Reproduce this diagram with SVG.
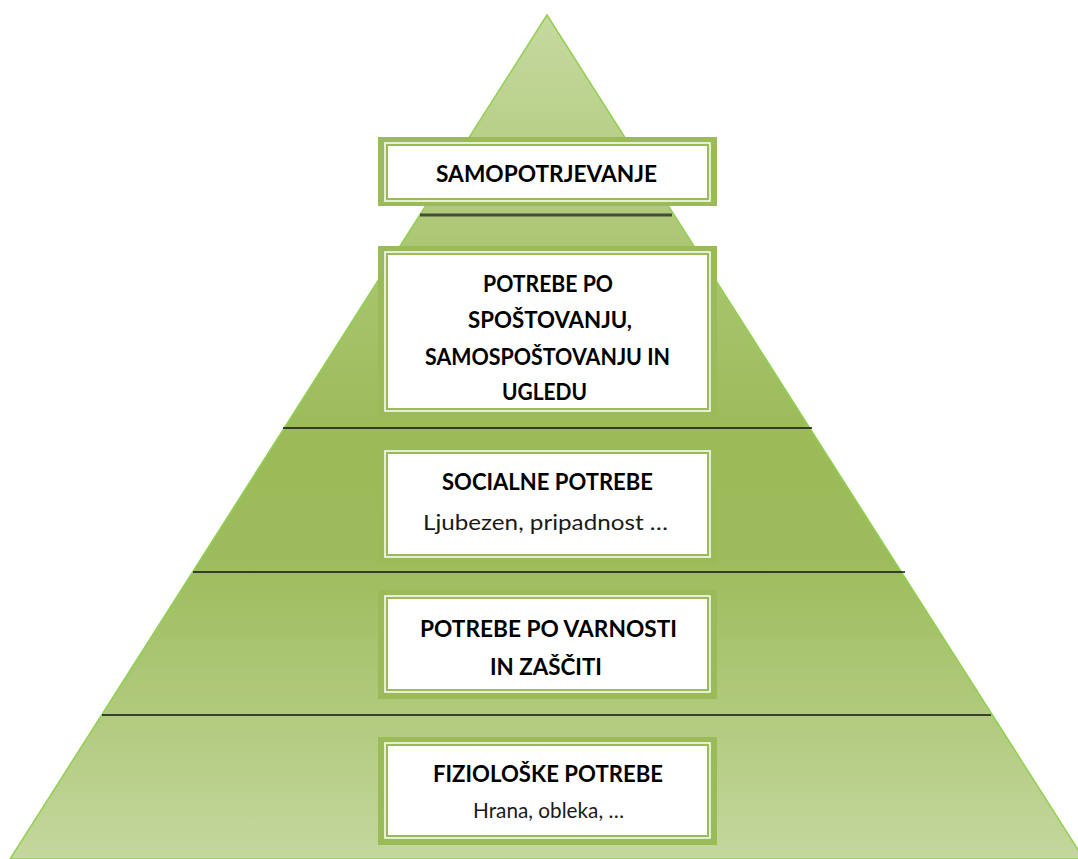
<svg xmlns="http://www.w3.org/2000/svg" width="1078" height="859" viewBox="0 0 1078 859">
  <defs>
    <linearGradient id="pyr" x1="0" y1="15" x2="0" y2="859" gradientUnits="userSpaceOnUse">
      <stop offset="0" stop-color="#c6d9a0"/>
      <stop offset="0.3" stop-color="#a9c56f"/>
      <stop offset="0.5" stop-color="#9bbb59"/>
      <stop offset="0.65" stop-color="#9dbd5d"/>
      <stop offset="1" stop-color="#c4d79d"/>
    </linearGradient>
  </defs>
  <style>
    .outer { fill: #9bbb59; }
    .dbl { fill: none; stroke: #ffffff; stroke-width: 1.5; }
    .inner { fill: #ffffff; }
    .t { font-family: Lato, "Open Sans", "Liberation Sans", sans-serif; font-weight: bold; font-size: 23px; fill: #000000; text-anchor: middle; }
    .s { font-family: Lato, "Open Sans", "Liberation Sans", sans-serif; font-size: 22px; fill: #1a1a1a; text-anchor: middle; }
    .sep { stroke: #111111; stroke-width: 1.5; }
  </style>
  <rect width="1078" height="859" fill="#ffffff"/>
  <g id="pyramid">
    <polygon points="547,15 1084,859 10,859" fill="url(#pyr)" stroke="#92d050" stroke-width="1.5"/>
  </g>
  <g id="connectors">
    <line x1="420" y1="215" x2="672" y2="215" stroke="#4a4a3a" stroke-width="3"/>
    <line class="sep" x1="283" y1="428" x2="812" y2="428"/>
    <line class="sep" x1="193" y1="572" x2="905" y2="572"/>
    <line class="sep" x1="102" y1="715" x2="991" y2="715"/>
  </g>
  <g id="node-samopotrjevanje">
    <rect class="outer" x="378" y="137" width="339" height="69"/>
    <rect class="dbl" x="385" y="143" width="325" height="58"/>
    <rect class="inner" x="388" y="146" width="319" height="52"/>
    <text class="t" x="546.5" y="182" textLength="221" lengthAdjust="spacingAndGlyphs">SAMOPOTRJEVANJE</text>
  </g>
  <g id="node-spostovanje">
    <rect class="outer" x="378" y="246" width="339" height="171"/>
    <rect class="dbl" x="385" y="252" width="325" height="159"/>
    <rect class="inner" x="388" y="255" width="319" height="153"/>
    <text class="t" x="548" y="292" textLength="130" lengthAdjust="spacingAndGlyphs">POTREBE PO</text>
    <text class="t" x="550" y="328" textLength="164" lengthAdjust="spacingAndGlyphs">SPOŠTOVANJU,</text>
    <text class="t" x="547.5" y="365" textLength="245" lengthAdjust="spacingAndGlyphs">SAMOSPOŠTOVANJU IN</text>
    <text class="t" x="544.5" y="400" textLength="85" lengthAdjust="spacingAndGlyphs">UGLEDU</text>
  </g>
  <g id="node-socialne">
    <rect class="outer" x="378" y="444" width="339" height="120"/>
    <rect class="dbl" x="385" y="451" width="325" height="106"/>
    <rect class="inner" x="388" y="454" width="319" height="100"/>
    <text class="t" x="547.5" y="490" textLength="211" lengthAdjust="spacingAndGlyphs">SOCIALNE POTREBE</text>
    <text class="s" x="545.5" y="530" textLength="245" lengthAdjust="spacingAndGlyphs">Ljubezen, pripadnost …</text>
  </g>
  <g id="node-varnost">
    <rect class="outer" x="378" y="590" width="339" height="109"/>
    <rect class="dbl" x="385" y="596" width="325" height="96"/>
    <rect class="inner" x="388" y="599" width="319" height="90"/>
    <text class="t" x="548.5" y="637" textLength="257" lengthAdjust="spacingAndGlyphs">POTREBE PO VARNOSTI</text>
    <text class="t" x="546" y="675" textLength="112" lengthAdjust="spacingAndGlyphs">IN ZAŠČITI</text>
  </g>
  <g id="node-fizioloske">
    <rect class="outer" x="378" y="737" width="339" height="108"/>
    <rect class="dbl" x="385" y="743" width="325" height="95"/>
    <rect class="inner" x="388" y="746" width="319" height="89"/>
    <text class="t" x="548" y="782" textLength="230" lengthAdjust="spacingAndGlyphs">FIZIOLOŠKE POTREBE</text>
    <text class="s" x="548.5" y="818" textLength="151" lengthAdjust="spacingAndGlyphs">Hrana, obleka, …</text>
  </g>
</svg>
